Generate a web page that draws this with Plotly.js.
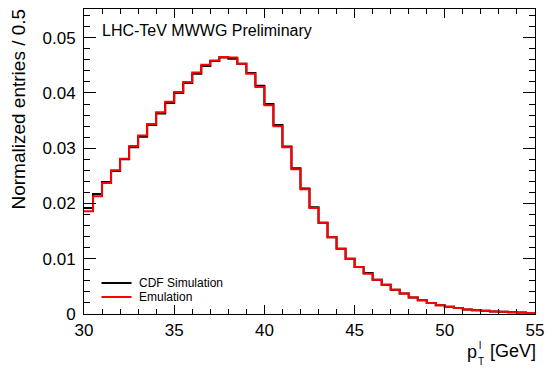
<!DOCTYPE html>
<html>
<head>
<meta charset="utf-8">
<script src="https://cdn.plot.ly/plotly-3.0.1.min.js"></script>
<style>
  html, body { margin: 0; padding: 0; background: #fff; }
  #chart { width: 547px; height: 372px; }
</style>
</head>
<body>
<div id="chart"></div>
<script>
// Histogram binning (pT^l in GeV)
const xMin = 30;
const binWidth = 0.5;

// Series values: normalized entries per 0.5 GeV bin (50 bins, 30-55 GeV)
const cdfSimulation = [0.0192, 0.0217, 0.0239, 0.0259, 0.0280, 0.0302, 0.0321, 0.0342, 0.0363, 0.0382,
                       0.0400, 0.0418, 0.0435, 0.0449, 0.0458, 0.0464, 0.0462, 0.0453, 0.0436, 0.0413,
                       0.0380, 0.0342, 0.0303, 0.0264, 0.0227, 0.0193, 0.0165, 0.0139, 0.0118, 0.0100,
                       0.0085, 0.0074, 0.0062, 0.0053, 0.0044, 0.0037, 0.0030, 0.0025, 0.0020, 0.0016,
                       0.0013, 0.0011, 0.0008, 0.0007, 0.0006, 0.00045, 0.0004, 0.0003, 0.00025, 0.0002];
const emulation = [0.0186, 0.0213, 0.0237, 0.0260, 0.0281, 0.0304, 0.0323, 0.0344, 0.0365, 0.0384,
                   0.0402, 0.0420, 0.0437, 0.0451, 0.0459, 0.0465, 0.0464, 0.0453, 0.0435, 0.0411,
                   0.0378, 0.0340, 0.0302, 0.0262, 0.0226, 0.0192, 0.0165, 0.0139, 0.0118, 0.0100,
                   0.0085, 0.0073, 0.0062, 0.0053, 0.0044, 0.0037, 0.0030, 0.0025, 0.0020, 0.0016,
                   0.0013, 0.0011, 0.0008, 0.0007, 0.0006, 0.00045, 0.0004, 0.0003, 0.00025, 0.0002];

const seriesNames = ["CDF Simulation", "Emulation"];
const seriesColors = ["#000000", "#ff0000"];
const titleText = "LHC-TeV MWWG Preliminary";
const yTitleText = "Normalized entries / 0.5";

// Build step-line coordinates: bin low edges plus final upper edge
function stepX(vals) {
  const xs = vals.map((_, i) => xMin + i * binWidth);
  xs.push(xMin + vals.length * binWidth);
  return xs;
}
function stepY(vals) {
  return vals.concat([vals[vals.length - 1]]);
}

const traces = [cdfSimulation, emulation].map((vals, k) => ({
  x: stepX(vals), y: stepY(vals), name: seriesNames[k],
  type: "scatter", mode: "lines", showlegend: false,
  line: { shape: "hv", color: seriesColors[k], width: 2 }
}));

const font = "Liberation Sans, Arial, Helvetica, sans-serif";
const W = 451, H = 305, L = 84, T = 9;
const px = (x) => (x - L) / W;
const py = (y) => 1 - (y - T) / H;

// Legend drawn as paper-positioned line samples and labels
const legendRows = [283, 297];
const legendShapes = legendRows.map((yy, k) => ({
  type: "line", xref: "paper", yref: "paper",
  x0: px(101.5), x1: px(131.5), y0: py(yy), y1: py(yy),
  line: { color: seriesColors[k], width: 2 }
}));
const legendLabels = legendRows.map((yy, k) => ({
  text: seriesNames[k], xref: "paper", yref: "paper", x: px(137), y: py(yy),
  xanchor: "left", yanchor: "middle", showarrow: false,
  font: { size: 12, family: font, color: "#000" }
}));

const layout = {
  width: 547, height: 372,
  margin: { l: L, r: 12, t: T, b: 58, pad: 0 },
  paper_bgcolor: "#ffffff", plot_bgcolor: "#ffffff",
  font: { family: font, color: "#000", size: 17 },
  showlegend: false,
  xaxis: {
    range: [30, 55], tickmode: "linear", tick0: 30, dtick: 5,
    ticks: "inside", ticklen: 9, tickwidth: 1, tickcolor: "#000",
    minor: { dtick: 1, ticks: "inside", ticklen: 5, tickwidth: 1, tickcolor: "#000" },
    showline: true, linecolor: "#000", linewidth: 1, mirror: "allticks",
    showgrid: false, zeroline: false,
    tickfont: { size: 17, family: font }, ticklabelstandoff: 1
  },
  yaxis: {
    range: [0, 0.0552], tickmode: "linear", tick0: 0, dtick: 0.01,
    ticks: "inside", ticklen: 12, tickwidth: 1, tickcolor: "#000",
    minor: { dtick: 0.002, ticks: "inside", ticklen: 6, tickwidth: 1, tickcolor: "#000" },
    showline: true, linecolor: "#000", linewidth: 1, mirror: "allticks",
    showgrid: false, zeroline: false,
    tickfont: { size: 17, family: font }, ticklabelstandoff: 4
  },
  shapes: legendShapes,
  annotations: [
    { text: titleText, xref: "paper", yref: "paper", x: px(100), y: py(30),
      xanchor: "left", yanchor: "middle", showarrow: false, font: { size: 16, family: font, color: "#000" } },
    { text: yTitleText, xref: "paper", yref: "paper", x: px(18), y: py(7),
      xanchor: "center", yanchor: "top", textangle: -90, showarrow: false,
      font: { size: 19, family: font, color: "#000" } },
    { text: "p", xref: "paper", yref: "paper", x: px(466), y: py(352),
      xanchor: "left", yanchor: "middle", showarrow: false, borderpad: 0,
      font: { size: 18, family: font, color: "#000" } },
    { text: "l", xref: "paper", yref: "paper", x: px(478), y: py(345),
      xanchor: "left", yanchor: "middle", showarrow: false, borderpad: 0,
      font: { size: 10, family: font, color: "#000" } },
    { text: "T", xref: "paper", yref: "paper", x: px(477), y: py(361),
      xanchor: "left", yanchor: "middle", showarrow: false, borderpad: 0,
      font: { size: 10, family: font, color: "#000" } },
    { text: "[GeV]", xref: "paper", yref: "paper", x: px(537), y: py(351),
      xanchor: "right", yanchor: "middle", showarrow: false, borderpad: 0,
      font: { size: 18, family: font, color: "#000" } }
  ].concat(legendLabels)
};

Plotly.newPlot("chart", traces, layout, { staticPlot: true, displayModeBar: false });
</script>
</body>
</html>
